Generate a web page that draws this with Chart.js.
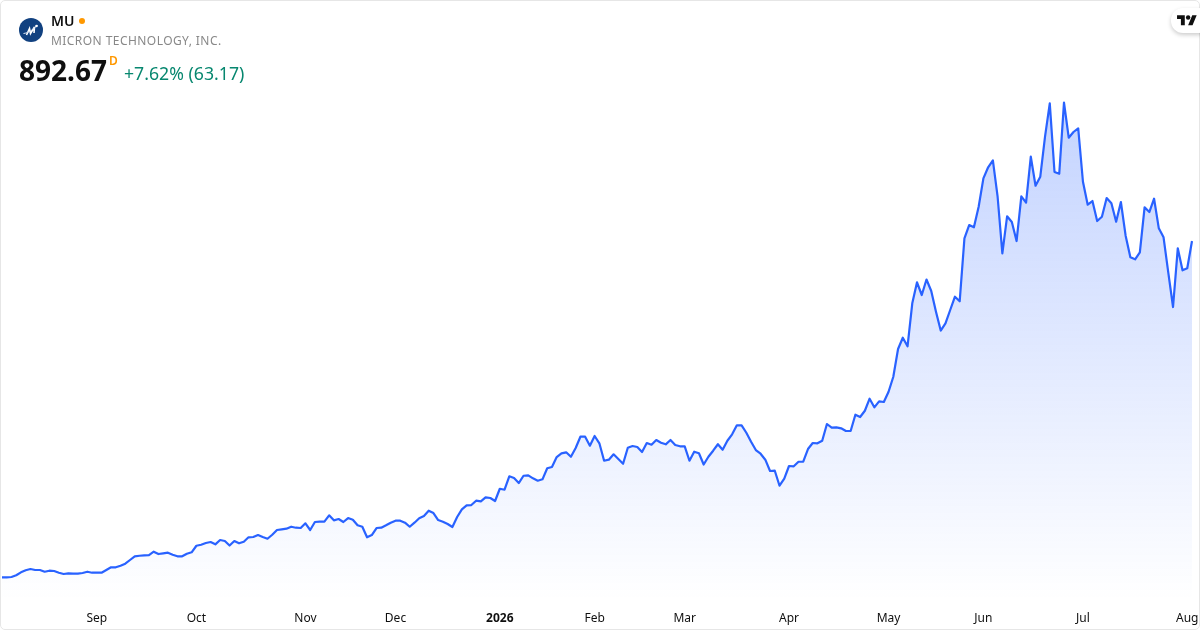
<!DOCTYPE html>
<html>
<head>
<meta charset="utf-8">
<script src="https://cdn.jsdelivr.net/npm/chart.js@4"></script>
<style>
html,body{margin:0;padding:0;background:#fff;width:1200px;height:630px;overflow:hidden;font-family:"Noto Sans",sans-serif}
#frame{position:absolute;left:0;top:0;width:1198px;height:628px;border:1px solid #e6e6e6;border-radius:5px}
#wrap{position:absolute;left:0;top:0;width:1200px;height:630px}
.t{position:absolute;white-space:nowrap;line-height:1}
#logo{position:absolute;left:19px;top:18px;width:24px;height:24px}
#tv{position:absolute;left:1171px;top:8px;width:40px;height:25px;background:#fff;border-radius:12px;box-shadow:0 2px 4px rgba(0,0,0,.2)}
#tv svg{position:absolute;left:6px;top:5px;width:20px;height:15.5px}
</style>
</head>
<body>
<div id="wrap"><canvas id="c" width="1200" height="630"></canvas></div>
<div id="frame"></div>
<svg id="logo" viewBox="0 0 24 24"><circle cx="12" cy="12" r="12" fill="#114180"/><path d="M7.5 17 10.5 10.5 11.5 15.5 15.5 9 15 15" fill="none" stroke="#fff" stroke-width="1.6"/><path d="M4.5 15.5C9 15 14 12 18.5 7" fill="none" stroke="#dbe5f4" stroke-width="1"/><circle cx="17.5" cy="8" r="1.3" fill="#fff"/></svg>
<div class="t" style="left:51px;top:14px;font-size:14px;font-weight:600;color:#0f0f0f">MU</div>
<div style="position:absolute;left:79px;top:18px;width:6px;height:6px;border-radius:50%;background:#ff9800"></div>
<div class="t" style="left:51px;top:35px;font-size:12px;color:#888888;letter-spacing:.44px">MICRON TECHNOLOGY, INC.</div>
<div class="t" style="left:19px;top:56px;font-size:28px;font-weight:700;color:#0f0f0f">892.67</div>
<div class="t" style="left:109px;top:55px;font-size:12px;font-weight:600;color:#ff9800">D</div>
<div class="t" style="left:124px;top:65px;font-size:17.7px;color:#07876f">+7.62% (63.17)</div>
<div id="tv"><svg viewBox="0 0 36 28"><path fill="#0f0f0f" d="M14 22H7V11H0V4h14v18zM28 22h-8l7.5-18h8L28 22z"/><circle fill="#0f0f0f" cx="20" cy="8" r="4"/></svg></div>
<script>
const closes = [
114.4,114.4,115.2,119.1,126.0,130.7,133.7,131.4,131.4,127.4,129.7,129.0,125.1,122.1,123.7,122.8,122.8,124.4,127.4,125.1,
125.1,125.1,131.4,137.6,137.6,141.3,145.9,154.5,163.0,164.4,165.3,166.0,173.7,168.3,170.0,171.4,166.7,163.0,163.0,169.0,
172.3,187.5,189.9,193.8,196.1,190.8,200.7,198.4,188.0,198.4,193.1,196.8,207.0,207.7,212.3,207.7,203.7,213.0,223.9,225.5,
226.9,231.5,229.2,228.5,239.4,223.9,242.4,243.1,243.1,257.9,246.3,249.3,242.4,251.6,247.7,234.8,231.5,207.0,212.3,228.5,
229.2,234.8,240.8,245.4,245.4,240.8,231.5,240.8,251.0,256.3,268.5,263.2,247.0,243.1,237.8,230.8,254.0,271.8,281.0,281.7,
291.7,290.3,299.5,297.9,291.0,319.4,317.1,348.1,344.2,332.6,349.5,350.4,343.5,338.0,341.2,366.7,369.7,392.8,401.4,403.7,
393.5,413.6,439.8,439.8,419.0,441.4,424.5,384.2,386.6,399.1,388.2,377.3,414.3,418.3,415.9,404.4,425.2,421.3,432.1,425.9,
422.2,432.1,420.6,417.6,417.6,384.2,405.1,401.4,375.4,393.5,407.4,422.4,409.7,430.5,445.3,466.2,466.2,449.0,428.2,409.0,
400.4,386.6,360.4,361.1,326.4,342.6,372.0,371.3,381.9,381.9,411.3,425.2,424.5,430.5,469.2,460.6,461.5,459.2,453.0,453.0,
490.7,485.4,499.9,527.7,507.8,521.7,520.1,543.9,578.6,642.7,668.9,649.0,748.5,797.1,767.7,803.5,776.9,729.0,685.5,702.2,
733.0,763.7,753.1,898.9,929.6,924.3,972.0,1037.7,1063.2,1079.4,995.1,864.2,949.8,936.6,892.6,996.1,981.3,1087.7,1020.6,1041.4,
1134.0,1211.3,1052.3,1048.3,1212.7,1131.7,1144.9,1153.4,1029.8,976.6,985.2,938.9,948.9,992.1,979.9,937.3,982.9,904.9,854.9,850.3,
866.5,970.6,959.7,990.5,922.0,901.2,819.3,739.9,875.7,824.8,829.5,892.67];
const tickLabels = ["Sep","Oct","Nov","Dec","2026","Feb","Mar","Apr","May","Jun","Jul","Aug"];
const tickIndexes = [20,41,64,83,105,125,144,166,187,207,228,250];
const sessions = closes.map((_, i) => i);

new Chart(document.getElementById('c'), {
  type: 'line',
  data: {
    labels: sessions,
    datasets: [{
      data: closes,
      borderColor: '#2962ff',
      borderWidth: 2.2,
      borderJoinStyle: 'round',
      pointRadius: 0,
      tension: 0,
      fill: 'start',
      backgroundColor: (ctx) => {
        const a = ctx.chart.chartArea;
        if (!a) return 'rgba(41,98,255,.2)';
        const g = ctx.chart.ctx.createLinearGradient(0, 103, 0, a.bottom);
        g.addColorStop(0, 'rgba(41,98,255,0.28)');
        g.addColorStop(1, 'rgba(41,98,255,0)');
        return g;
      }
    }]
  },
  options: {
    responsive: false,
    animation: false,
    layout: { padding: { left: 2, right: 8, top: 0, bottom: 0 } },
    plugins: { legend: { display: false }, tooltip: { enabled: false } },
    scales: {
      x: {
        type: 'category',
        grid: { display: false, drawTicks: false },
        border: { display: false },
        afterFit: (s) => { s.height = 30; s.paddingLeft = 0; s.paddingRight = 0; },
        ticks: {
          autoSkip: false,
          maxRotation: 0,
          minRotation: 0,
          padding: 11,
          color: '#0f0f0f',
          font: (ctx) => ({ family: '"Noto Sans"', size: 12, weight: ctx.tick && ctx.tick.label === '2026' ? '700' : '400' }),
          callback: (v, i) => { const k = tickIndexes.indexOf(i); return k >= 0 ? tickLabels[k] : ''; }
        }
      },
      y: { display: false, min: 61.94, max: 1450.34 }
    }
  }
});
</script>
</body>
</html>
